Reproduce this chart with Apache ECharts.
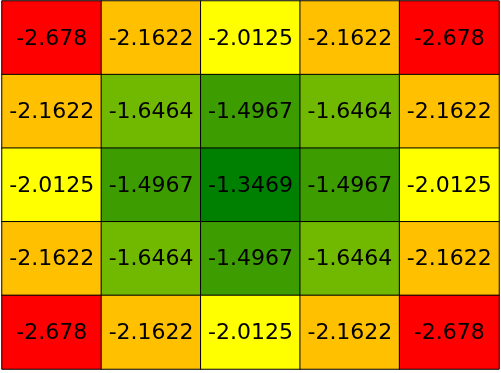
<!DOCTYPE html>
<html><head><meta charset="utf-8">
<script src="https://cdn.jsdelivr.net/npm/echarts@6/dist/echarts.min.js"></script>
<style>html,body{margin:0;padding:0;background:#fff}#c{width:501px;height:373px}</style>
</head><body><div id="c"></div>
<script>
var xCats = ['0','1','2','3','4'];
var yCats = ['0','1','2','3','4'];
var rows = [
  [-2.678, -2.1622, -2.0125, -2.1622, -2.678],
  [-2.1622, -1.6464, -1.4967, -1.6464, -2.1622],
  [-2.0125, -1.4967, -1.3469, -1.4967, -2.0125],
  [-2.1622, -1.6464, -1.4967, -1.6464, -2.1622],
  [-2.678, -2.1622, -2.0125, -2.1622, -2.678]
];
var levelValues = [-2.678, -2.1622, -2.0125, -1.6464, -1.4967, -1.3469];
var levelColors = ['#ff0000', '#ffc000', '#ffff00', '#71b800', '#3c9c00', '#008000'];

var data = [];
for (var r = 0; r < rows.length; r++) {
  for (var c = 0; c < rows[r].length; c++) {
    data.push([c, r, rows[r][c]]);
  }
}
var pieces = levelValues.map(function (v, i) {
  return { gte: v - 0.0001, lte: v + 0.0001, color: levelColors[i] };
});
var chart = echarts.init(document.getElementById('c'));
chart.setOption({
  animation: false,
  grid: { left: 2, top: 1, width: 497, height: 368 },
  xAxis: { type: 'category', data: xCats, show: false },
  yAxis: { type: 'category', data: yCats, inverse: true, show: false },
  visualMap: { type: 'piecewise', show: false, pieces: pieces, dimension: 2 },
  series: [{
    type: 'heatmap',
    data: data,
    itemStyle: { borderColor: '#000', borderWidth: 1 },
    label: {
      show: true, color: '#000', fontFamily: 'DejaVu Sans', fontSize: 22,
      offset: [0, 1],
      formatter: function (p) { return String(p.value[2]); }
    },
    emphasis: { disabled: true }
  }]
});
</script></body></html>
